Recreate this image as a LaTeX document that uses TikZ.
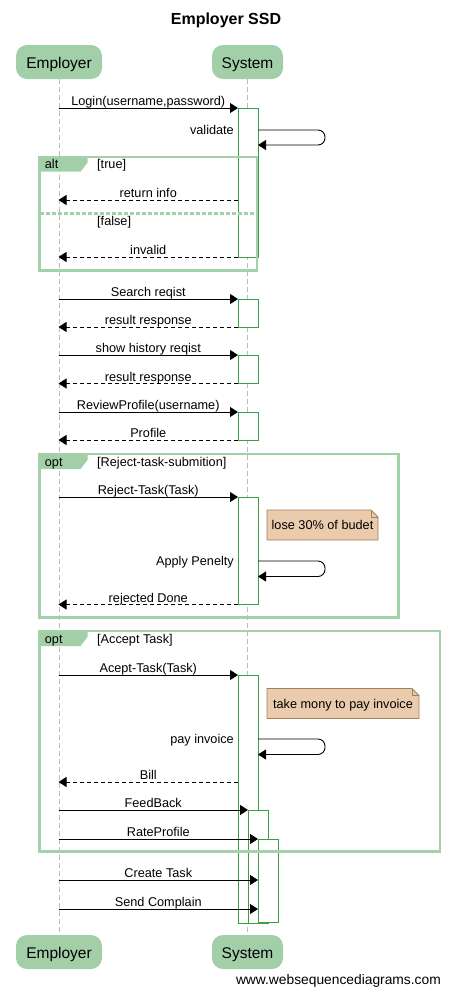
\documentclass[tikz,border=0pt]{standalone}
\usepackage{fontspec}
\setmainfont{Liberation Sans}
\usetikzlibrary{arrows.meta}
\definecolor{wsdgreen}{HTML}{A2CFA8}
\definecolor{framegreen}{HTML}{A4D0AA}
\definecolor{actgreen}{HTML}{3C9F45}
\definecolor{notefill}{HTML}{EACBAE}
\definecolor{notedraw}{HTML}{A0825A}
\definecolor{lifegray}{HTML}{BBBBBB}
\tikzset{
  participant/.style={fill=wsdgreen, rounded corners=11pt, minimum width=#1,
    minimum height=34pt, inner sep=0pt, text height=14pt, text depth=1.4pt,
    font=\fontsize{15.5}{18}\selectfont},
  lifeline/.style={draw=lifegray, line width=0.8pt, dash pattern=on 5pt off 3pt},
  activation/.style={draw=actgreen, fill=white, line width=0.9pt},
  callarrow/.style={line width=0.9pt, -{Triangle[length=8pt,width=10pt]}},
  retarrow/.style={callarrow, dash pattern=on 4.5pt off 2.5pt},
  msglabel/.style={font=\fontsize{12.7}{14}\selectfont, inner sep=0pt},
  framebox/.style={draw=framegreen, line width=2.2pt},
  notebox/.style={fill=notefill, draw=notedraw, line width=0.8pt},
}
\newcommand\sdmsg[6]{%
  \coordinate (#1-from) at (#3,#5);
  \coordinate (#1-to) at (#4,#5);
  \draw[#2] (#1-from) -- (#1-to) node[msglabel, midway, anchor=base, yshift=2.3pt] (#1-label) {#6};
}
\newcommand\sdself[4]{%
  \coordinate (#1-from) at (258,#2);
  \coordinate (#1-to) at (258,#3);
  \draw[callarrow, rounded corners=7pt] (#1-from) -- (325,#2) -- (325,#3) -- (#1-to);
  \node[msglabel, anchor=base east] (#1-label) at (234,#2+4.5) {#4};
}
\newcommand\sdframe[7]{%
  \fill[wsdgreen] (#2,#3) -- (#2+48,#3) -- (#2+48,#3+6) -- (#2+41,#3+15) -- (#2,#3+15) -- cycle;
  \draw[framebox] (#2,#3) rectangle (#4,#5);
  \node[msglabel, anchor=base west] (#1-tag) at (#2+5.2,#3+12.2) {#6};
  \node[msglabel, anchor=base west] (#1-cond) at (#2+57.5,#3+12.2) {#7};
}
\newcommand\sdnote[6]{%
  \filldraw[notebox] (#2,#3) -- (#4-7,#3) -- (#4,#3+7) -- (#4,#5) -- (#2,#5) -- cycle;
  \draw[notedraw, line width=0.8pt] (#4-7,#3) -- (#4-7,#3+7) -- (#4,#3+7);
  \node[msglabel, anchor=base] (#1) at ({(#2+#4)/2},{(#3+#5)/2+4.5}) {#6};
}
\begin{document}
\begin{tikzpicture}[x=1pt, y=-1pt]
\useasboundingbox (0,0) rectangle (450,994);
% title
\node[font=\fontsize{16}{19}\bfseries\selectfont, anchor=base, inner sep=0pt] (title) at (226,24.5) {Employer SSD};
% participants
\node[participant=86pt] (emp) at (59,62) {Employer};
\node[participant=71pt] (sys) at (247.5,62) {System};
\node[participant=86pt] (empB) at (59,952) {Employer};
\node[participant=71pt] (sysB) at (247.5,952) {System};
\draw[lifeline] (emp.south) -- (empB.north);
\draw[lifeline] (sys.south) -- (sysB.north);
% activations
\draw[activation] (238,108) rectangle (258,257);
\draw[activation] (238,299) rectangle (258,327);
\draw[activation] (238,355) rectangle (258,383.5);
\draw[activation] (238,412) rectangle (258,440);
\draw[activation] (238,497) rectangle (258,604.5);
\draw[activation] (238,675) rectangle (258,923);
\draw[activation] (248,810) rectangle (268,923);
\draw[activation] (258,839) rectangle (278,922);
% frames
\sdframe{alt}{39.5}{156.7}{256.7}{270.5}{alt}{[true]}
\draw[framegreen, line width=3pt, dash pattern=on 4pt off 2pt] (39.5,213) -- (256.7,213);
\node[msglabel, anchor=base west] (altfalse) at (97,225.2) {[false]};
\sdframe{opt1}{39.5}{454}{398.5}{617.5}{opt}{[Reject-task-submition]}
\sdframe{opt2}{39.5}{631}{440}{851.5}{opt}{[Accept Task]}
% messages
\sdmsg{login}{callarrow}{58.5}{238}{108}{Login(username,password)}
\sdself{validate}{130}{145}{validate}
\sdmsg{retinfo}{retarrow}{238}{58.5}{200}{return info}
\sdmsg{invalid}{retarrow}{238}{58.5}{257}{invalid}
\sdmsg{search}{callarrow}{58.5}{238}{299}{Search reqist}
\sdmsg{resA}{retarrow}{238}{58.5}{327}{result response}
\sdmsg{hist}{callarrow}{58.5}{238}{355}{show history reqist}
\sdmsg{resB}{retarrow}{238}{58.5}{383.5}{result response}
\sdmsg{review}{callarrow}{58.5}{238}{412}{ReviewProfile(username)}
\sdmsg{profile}{retarrow}{238}{58.5}{440}{Profile}
\sdmsg{reject}{callarrow}{58.5}{238}{497}{Reject-Task(Task)}
\sdnote{noteA}{267}{510}{378}{540}{lose 30\% of budet}
\sdself{penalty}{561}{576.5}{Apply Penelty}
\sdmsg{rejdone}{retarrow}{238}{58.5}{604.5}{rejected Done}
\sdmsg{accept}{callarrow}{58.5}{238}{675}{Acept-Task(Task)}
\sdnote{noteB}{267}{688.5}{419}{718.5}{take mony to pay invoice}
\sdself{pay}{739}{754.5}{pay invoice}
\sdmsg{bill}{retarrow}{238}{58.5}{782}{Bill}
\sdmsg{feedback}{callarrow}{58.5}{248}{810}{FeedBack}
\sdmsg{rate}{callarrow}{58.5}{258}{839}{RateProfile}
\sdmsg{create}{callarrow}{58.5}{258}{880}{Create Task}
\sdmsg{complain}{callarrow}{58.5}{258}{909}{Send Complain}
% footer
\node[font=\fontsize{13.8}{16}\selectfont, anchor=base east, inner sep=0pt] (wsd) at (441,984) {www.websequencediagrams.com};
\end{tikzpicture}
\end{document}
